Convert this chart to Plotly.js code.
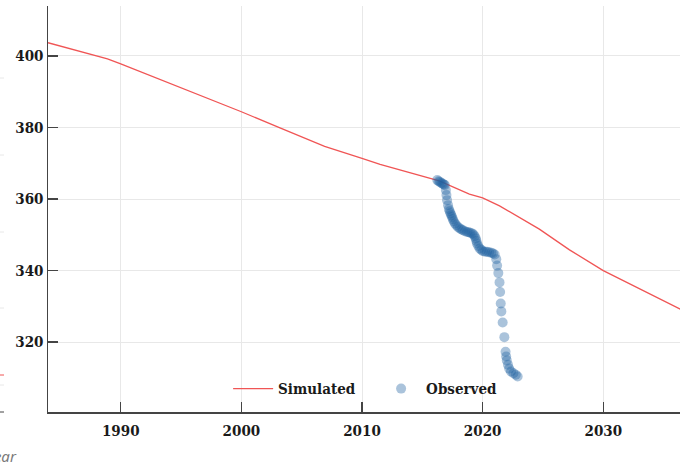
<!DOCTYPE html>
<html>
<head>
<meta charset="utf-8">
<script src="https://cdn.plot.ly/plotly-3.0.1.min.js"></script>
<style>html,body{margin:0;padding:0;background:#fff;}#chart{width:680px;height:466px;}</style>
</head>
<body>
<div id="chart"></div>
<script>
// Simulated series (year, value)
var simYears = [1983.97, 1988.9, 1990.0, 1994.06, 2000.0, 2003.2, 2006.9, 2010.0, 2011.5, 2016.4, 2018.9, 2020.0, 2021.4, 2024.7, 2027.2, 2030.0, 2036.4];
var simValues = [403.7, 399.2, 397.8, 392.4, 384.4, 379.9, 374.7, 371.4, 369.7, 365.1, 361.4, 360.3, 358.1, 351.6, 345.8, 340.0, 329.2];

// Observed series (year, value)
var obsYears = [2016.24, 2016.35, 2016.46, 2016.57, 2016.68, 2016.78, 2016.87, 2016.95, 2017.0, 2017.05, 2017.13, 2017.2, 2017.27, 2017.33, 2017.4, 2017.46, 2017.53, 2017.6, 2017.7, 2017.82, 2017.95, 2018.1, 2018.24, 2018.37, 2018.53, 2018.7, 2018.84, 2018.98, 2019.12, 2019.25, 2019.34, 2019.42, 2019.48, 2019.53, 2019.64, 2019.75, 2019.89, 2020.03, 2020.2, 2020.36, 2020.54, 2020.72, 2020.86, 2021.0, 2021.13, 2021.2, 2021.3, 2021.4, 2021.45, 2021.5, 2021.55, 2021.66, 2021.8, 2021.9, 2021.95, 2022.0, 2022.1, 2022.2, 2022.35, 2022.55, 2022.75, 2022.9];
var obsValues = [365.3, 365.0, 364.8, 364.5, 364.3, 364.1, 363.9, 362.5, 361.1, 359.7, 358.3, 357.2, 356.6, 356.0, 355.5, 355.0, 354.4, 353.8, 353.2, 352.7, 352.2, 351.8, 351.5, 351.3, 351.0, 350.8, 350.7, 350.6, 350.4, 350.1, 349.6, 349.0, 348.3, 347.6, 346.9, 346.2, 345.8, 345.4, 345.3, 345.3, 345.1, 345.0, 344.8, 344.5, 343.2, 341.4, 339.3, 336.7, 334.0, 330.8, 328.6, 325.5, 321.4, 317.3, 316.0, 314.9, 313.7, 312.6, 311.8, 311.3, 310.9, 310.4];

var xTicks = [1990, 2000, 2010, 2020, 2030];
var yTicks = [320, 340, 360, 380, 400];

var FONT = 'DejaVu Serif Condensed, DejaVu Serif, serif';

var traces = [
  {x: simYears, y: simValues, mode: 'lines', name: 'Simulated',
   line: {color: 'rgb(240,85,85)', width: 1.3}},
  {x: obsYears, y: obsValues, mode: 'markers', name: 'Observed',
   marker: {color: 'rgb(31,96,160)', size: 10, opacity: 0.38, line: {width: 0}}}
];

function frag(py, color) {
  var y = (412 - py) / 406;
  return {type: 'line', xref: 'paper', yref: 'paper', x0: -48/632, x1: -44/632, y0: y, y1: y,
          line: {color: color, width: 1}};
}

var layout = {
  width: 680, height: 466,
  margin: {l: 48, r: 0, t: 6, b: 54},
  paper_bgcolor: '#fff', plot_bgcolor: '#fff',
  font: {family: FONT, size: 15, color: '#1a1a1a', weight: 'bold'},
  showlegend: true,
  legend: {orientation: 'h', x: 0.285, y: 0.057, xanchor: 'left', yanchor: 'middle',
           itemwidth: 40, entrywidth: 93, entrywidthmode: 'pixels',
           font: {family: FONT, size: 15, color: '#1a1a1a', weight: 'bold'}, bgcolor: 'rgba(0,0,0,0)'},
  xaxis: {range: [1983.97, 2036.36], tickvals: xTicks, ticktext: xTicks.map(String),
          showgrid: true, gridcolor: '#e8e8e8', gridwidth: 1, zeroline: false,
          showline: true, linecolor: '#444', linewidth: 1.5,
          ticks: 'inside', ticklen: 10, tickwidth: 1.5, tickcolor: '#444',
          tickfont: {family: FONT, size: 15, color: '#1a1a1a', weight: 'bold'}, ticklabelstandoff: 4},
  yaxis: {range: [300.47, 413.97], tickvals: yTicks, ticktext: yTicks.map(String),
          showgrid: true, gridcolor: '#e8e8e8', gridwidth: 1, zeroline: false,
          showline: true, linecolor: '#444', linewidth: 1.5,
          ticks: 'inside', ticklen: 10, tickwidth: 1.5, tickcolor: '#444',
          tickfont: {family: FONT, size: 15, color: '#1a1a1a', weight: 'bold'}, ticklabelstandoff: 0},
  annotations: [
    {text: 'Year', xref: 'paper', yref: 'paper', x: -63/632, y: (412 - 456) / 406,
     xanchor: 'left', yanchor: 'middle', showarrow: false,
     font: {family: 'Noto Sans, sans-serif', size: 15, color: '#7a7a7a', style: 'italic', weight: 'normal'}}
  ],
  shapes: [frag(78, '#e8e8e8'), frag(155, '#e8e8e8'), frag(232, '#e8e8e8'), frag(308, '#e8e8e8'),
           frag(385, '#e8e8e8'), frag(375, 'rgb(240,85,85)'), frag(412, '#444')]
};

Plotly.newPlot('chart', traces, layout, {displayModeBar: false, staticPlot: true});
</script>
</body>
</html>
